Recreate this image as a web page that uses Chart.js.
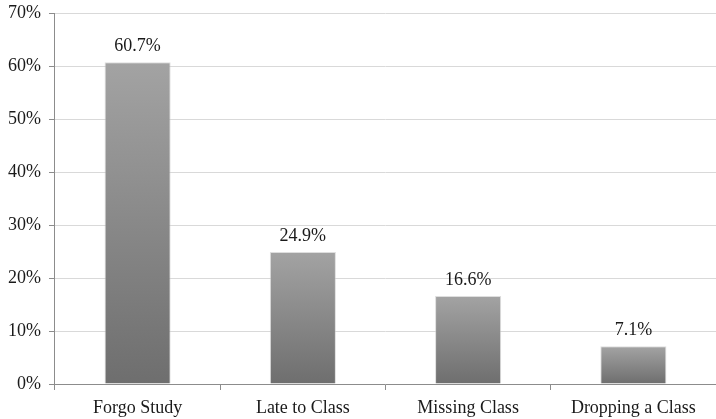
<!DOCTYPE html>
<html>
<head>
<meta charset="utf-8">
<script src="https://cdn.jsdelivr.net/npm/chart.js@4/dist/chart.umd.min.js"></script>
<style>
  html, body { margin: 0; padding: 0; background: #fff; }
  #wrap { width: 716px; height: 419px; }
</style>
</head>
<body>
<div id="wrap"><canvas id="c" width="716" height="419"></canvas></div>
<script>
// Share of students reporting each consequence
const categories = ["Forgo Study", "Late to Class", "Missing Class", "Dropping a Class"];
const percentValues = [60.7, 24.9, 16.6, 7.1];
const yTickValues = [0, 10, 20, 30, 40, 50, 60, 70];

const FONT = '"Liberation Serif", "DejaVu Serif", serif';

// Each bar shades from a lighter grey at its top to a darker grey at its base
function barGradient(context) {
  const chart = context.chart;
  const yScale = chart.scales.y;
  if (!yScale || !chart.chartArea || context.parsed == null) return '#8a8a8a';
  const top = yScale.getPixelForValue(context.parsed.y);
  const bottom = yScale.getPixelForValue(0);
  if (!isFinite(top) || !isFinite(bottom) || top === bottom) return '#8a8a8a';
  const g = chart.ctx.createLinearGradient(0, top, 0, bottom);
  g.addColorStop(0, '#a3a3a3');
  g.addColorStop(1, '#6e6e6e');
  return g;
}

// Writes the percentage above each bar
const valueLabels = {
  id: 'valueLabels',
  afterDatasetsDraw(chart) {
    const ctx = chart.ctx;
    const meta = chart.getDatasetMeta(0);
    ctx.save();
    ctx.font = '18px ' + FONT;
    ctx.fillStyle = '#1a1a1a';
    ctx.textAlign = 'center';
    ctx.textBaseline = 'alphabetic';
    meta.data.forEach((bar, i) => {
      ctx.fillText(percentValues[i].toFixed(1) + '%', bar.x, bar.y - 11);
    });
    ctx.restore();
  }
};

new Chart(document.getElementById('c'), {
  type: 'bar',
  data: {
    labels: categories,
    datasets: [{
      data: percentValues,
      backgroundColor: barGradient,
      borderColor: 'rgba(200,200,200,0.6)',
      borderWidth: 1,
      categoryPercentage: 1.0,
      barPercentage: 0.4
    }]
  },
  options: {
    responsive: false,
    animation: false,
    layout: { padding: 0 },
    plugins: {
      legend: { display: false },
      tooltip: { enabled: false }
    },
    scales: {
      x: {
        afterFit(scale) {
          scale.height = 35;
        },
        grid: {
          display: true,
          drawOnChartArea: false,
          offset: true,
          tickLength: 6,
          color: '#8c8c8c'
        },
        border: { color: '#8c8c8c', width: 1 },
        ticks: {
          color: '#1a1a1a',
          font: { family: FONT, size: 18 },
          padding: 7,
          maxRotation: 0
        }
      },
      y: {
        min: 0,
        max: 70,
        afterFit(scale) {
          scale.paddingTop = 13;
        },
        afterBuildTicks(scale) {
          scale.ticks = yTickValues.map(v => ({ value: v }));
        },
        grid: {
          color: '#d9d9d9',
          tickColor: '#8c8c8c',
          tickLength: 6
        },
        border: { color: '#8c8c8c', width: 1 },
        ticks: {
          color: '#1a1a1a',
          font: { family: FONT, size: 18 },
          padding: 8,
          callback: v => v + '%'
        }
      }
    }
  },
  plugins: [valueLabels]
});
</script>
</body>
</html>
